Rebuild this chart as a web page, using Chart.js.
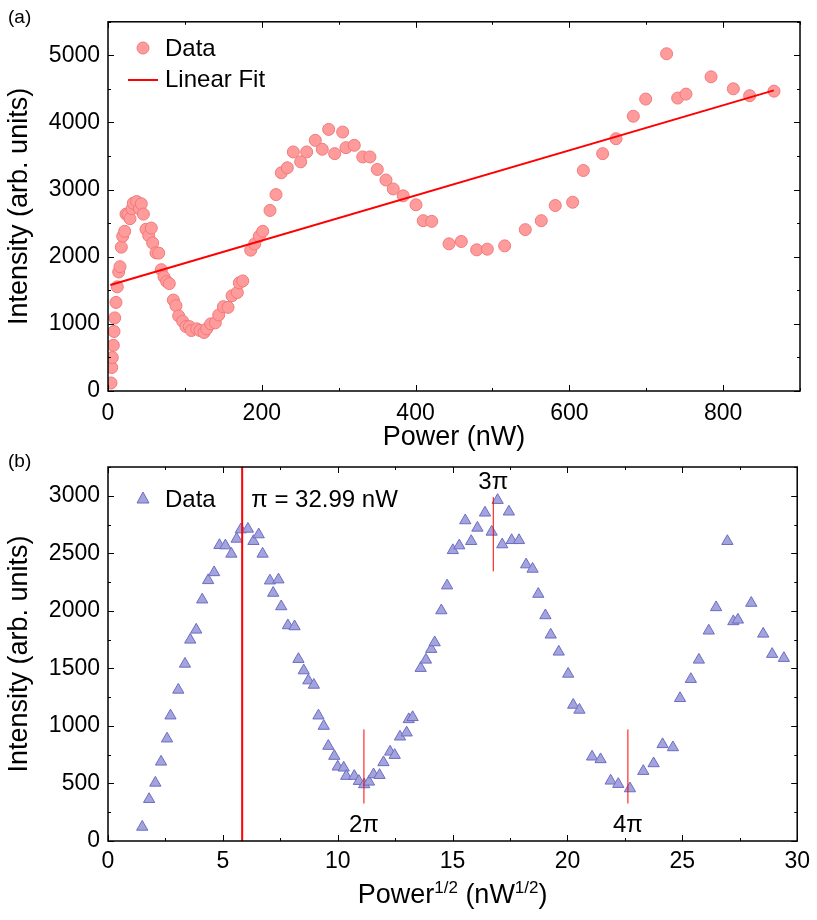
<!DOCTYPE html>
<html>
<head>
<meta charset="utf-8">
<script src="https://cdn.jsdelivr.net/npm/chart.js@4.4.0/dist/chart.umd.min.js"></script>
<style>
    html, body { margin: 0; padding: 0; background: #fff; }
    .wrap { position: relative; width: 817px; height: 920px; }
    canvas { display: block; position: absolute; left: 0; }
    #chartA { top: 0; }
    #chartB { top: 440px; }
</style>
</head>
<body>
<div class="wrap">
<canvas id="chartA" width="817" height="460"></canvas>
<canvas id="chartB" width="817" height="480"></canvas>
</div>
<script>
// panel (a): intensity vs power
const powerNw = [3.9, 4.8, 5.6, 6.9, 7.8, 8.7, 10.4, 12.1, 13.9, 15.6, 17.3, 19.1, 21.7, 23.4, 26.0, 28.6,
    31.2, 32.9, 37.3, 40.7, 43.3, 46.0, 49.4, 52.9, 56.3, 58.1, 62.4, 66.0, 69.3, 72.8, 76.3, 79.7,
    85.0, 88.4, 91.9, 97.1, 101.4, 105.8, 108.4, 115.4, 119.7, 124.9, 128.4, 133.6, 139.6, 144.0,
    150.0, 156.1, 161.3, 168.2, 170.8, 175.2, 185.6, 190.8, 196.8, 201.2, 210.7, 218.5, 225.4,
    233.2, 241.0, 250.6, 258.4, 269.6, 278.7, 287.0, 294.8, 305.2, 309.5, 320.3, 331.3, 340.7,
    350.2, 361.5, 371.0, 384.0, 400.6, 410.0, 421.0, 443.5, 459.5, 479.5, 493.3, 515.9, 542.7,
    563.5, 581.7, 604.3, 618.2, 643.3, 660.7, 683.2, 699.3, 726.5, 740.9, 751.7, 784.3, 813.3,
    834.5, 866.2];
const intensityA = [120, 350, 498, 680, 887, 1089, 1320, 1552, 1773, 1852, 2143, 2305, 2379, 2635, 2626, 2567,
    2715, 2797, 2822, 2715, 2789, 2635, 2409, 2315, 2428, 2206, 2059, 2054, 1807, 1700, 1630, 1600,
    1355, 1271, 1119, 1039, 960, 960, 901, 926, 901, 872, 926, 1000, 1015, 1133,
    1256, 1246, 1419, 1467, 1611, 1640, 2098, 2192, 2305, 2379, 2690, 2926, 3251,
    3325, 3561, 3414, 3561, 3734, 3601, 3897, 3536, 3857, 3625, 3660, 3487, 3487,
    3300, 3143, 3010, 2907, 2774, 2537, 2527, 2192, 2227, 2103, 2113, 2162, 2404,
    2537, 2763, 2812, 3285, 3536, 3758, 4093, 4349, 5024, 4364, 4423, 4680, 4502,
    4399, 4467];
const fitX = [3, 866];
const fitY = [1580, 4478];
const ticksAx = [0, 200, 400, 600, 800];
const ticksAy = [0, 1000, 2000, 3000, 4000, 5000];

// panel (b): intensity vs sqrt(power)
const sqrtPower = [1.49, 1.79, 2.06, 2.31, 2.57, 2.72, 3.06, 3.35, 3.58, 3.84, 4.10, 4.36, 4.62, 4.85, 5.11,
    5.37, 5.60, 5.78, 6.09, 6.33, 6.56, 6.73, 7.05, 7.19, 7.42, 7.54, 7.83, 8.12, 8.29, 8.52, 8.72,
    8.96, 9.16, 9.39, 9.59, 9.85, 10.00, 10.26, 10.37, 10.72, 10.92, 11.15, 11.36, 11.56, 11.82,
    11.99, 12.28, 12.48, 12.71, 13.00, 13.09, 13.26, 13.61, 13.84, 14.07, 14.22, 14.51, 14.76,
    15.01, 15.29, 15.55, 15.81, 16.08, 16.41, 16.70, 16.96, 17.16, 17.45, 17.57, 17.89, 18.20,
    18.48, 18.73, 19.04, 19.27, 19.62, 20.03, 20.25, 20.52, 21.07, 21.44, 21.88, 22.21, 22.72,
    23.30, 23.75, 24.14, 24.59, 24.90, 25.37, 25.72, 26.15, 26.47, 26.96, 27.22, 27.42, 28.00,
    28.52, 28.91, 29.42];
const intensityB = [122, 363, 505, 688, 889, 1089, 1313, 1539, 1748, 1835, 2097, 2265, 2334, 2570, 2567,
    2495, 2625, 2706, 2712, 2605, 2663, 2495, 2262, 2155, 2271, 2038, 1873, 1864, 1580, 1481, 1394,
    1356, 1089, 999, 825, 738, 645, 636, 564, 564, 520, 491, 514, 578, 572,
    683, 775, 746, 906, 941, 1057, 1075, 1502, 1574, 1667, 1725, 2003, 2219,
    2526, 2567, 2785, 2605, 2721, 2852, 2686, 2962, 2576, 2861, 2613, 2613, 2402,
    2364, 2146, 1960, 1792, 1644, 1452, 1182, 1139, 732, 709, 523, 494, 456,
    607, 674, 840, 813, 1240, 1406, 1574, 1827, 2030, 2605, 1908, 1922, 2068,
    1800, 1624, 1589];
const ticksBx = [0, 5, 10, 15, 20, 25, 30];
const ticksBy = [0, 500, 1000, 1500, 2000, 2500, 3000];

// phase markers: x position, lower and upper y, label
const piLineX = 5.84;
const phaseX = [11.14, 16.77, 22.63];
const phaseLow = [326, 2343, 326];
const phaseHigh = [970, 2988, 970];
const phaseLabels = ['2π', '3π', '4π'];
const phaseLabelY = [135, 3115, 135];

const FONT = '"Liberation Sans", Arial, sans-serif';
const RED = '#ff0000';
const PINK_FILL = '#ff9b9b';
const PINK_EDGE = '#f07a7a';
const BLUE_FILL = '#a4a4dc';
const BLUE_EDGE = '#6c6cc6';

Chart.defaults.font.family = FONT;
Chart.defaults.color = '#000';

function toPoints(xs, ys) {
    return xs.map(function (x, i) { return { x: x, y: ys[i] }; });
}

function fixedTicks(values) {
    return function (s) { s.ticks = values.map(function (v) { return { value: v }; }); };
}

// inward ticks on all four sides + frame
function frameTicks(xMajor, xMinor, yMajor, yMinor) {
    return {
        id: 'frameTicks',
        afterDraw: function (chart) {
            const ctx = chart.ctx;
            const a = chart.chartArea;
            const xs = chart.scales.x;
            const ys = chart.scales.y;
            ctx.save();
            ctx.strokeStyle = '#000';
            ctx.lineWidth = 1;
            for (let v = xs.min; v <= xs.max + 1e-9; v += xMinor) {
                const px = Math.round(xs.getPixelForValue(v)) + 0.5;
                const isMajor = Math.abs(v / xMajor - Math.round(v / xMajor)) < 1e-6;
                const len = isMajor ? 6 : 3;
                ctx.beginPath();
                ctx.moveTo(px, a.bottom); ctx.lineTo(px, a.bottom - len);
                ctx.moveTo(px, a.top); ctx.lineTo(px, a.top + len);
                ctx.stroke();
            }
            for (let v = ys.min; v <= ys.max + 1e-9; v += yMinor) {
                const py = Math.round(ys.getPixelForValue(v)) + 0.5;
                const isMajor = Math.abs(v / yMajor - Math.round(v / yMajor)) < 1e-6;
                const len = isMajor ? 6 : 3;
                ctx.beginPath();
                ctx.moveTo(a.left, py); ctx.lineTo(a.left + len, py);
                ctx.moveTo(a.right, py); ctx.lineTo(a.right - len, py);
                ctx.stroke();
            }
            ctx.lineWidth = 1.5;
            ctx.strokeRect(a.left, a.top, a.right - a.left, a.bottom - a.top);
            ctx.restore();
        }
    };
}

function panelLabel(text, y) {
    return {
        id: 'panelLabel',
        afterDraw: function (chart) {
            const ctx = chart.ctx;
            ctx.save();
            ctx.fillStyle = '#000';
            ctx.font = '19px ' + FONT;
            ctx.textAlign = 'left';
            ctx.textBaseline = 'middle';
            ctx.fillText(text, 8, y);
            ctx.restore();
        }
    };
}

function yAxis(max, values) {
    return {
        type: 'linear',
        min: 0,
        max: max,
        grid: { display: false, drawTicks: false },
        border: { display: false },
        afterBuildTicks: fixedTicks(values),
        ticks: { padding: 8, font: { size: 23 }, color: '#000', callback: function (v) { return String(v); } },
        title: { display: true, text: 'Intensity (arb. units)', font: { size: 27 }, color: '#000', padding: { top: 3, bottom: 0 } },
        afterFit: function (s) { s.width = 108; }
    };
}

// ---------- panel (a) ----------
const configA = {
    type: 'scatter',
    data: {
        datasets: [
            {
                label: 'Data',
                data: toPoints(powerNw, intensityA),
                pointStyle: 'circle',
                pointRadius: 6,
                pointBackgroundColor: PINK_FILL,
                pointBorderColor: PINK_EDGE,
                pointBorderWidth: 1,
                order: 2
            },
            {
                label: 'Linear Fit',
                type: 'line',
                data: toPoints(fitX, fitY),
                borderColor: RED,
                borderWidth: 2,
                pointRadius: 0,
                order: 1
            }
        ]
    },
    options: {
        responsive: false,
        animation: false,
        layout: { padding: { left: 0, right: 17, top: 19, bottom: 0 } },
        plugins: { legend: { display: false }, tooltip: { enabled: false } },
        scales: {
            x: {
                type: 'linear',
                min: 0,
                max: 900,
                grid: { display: false, drawTicks: false },
                border: { display: false },
                afterBuildTicks: fixedTicks(ticksAx),
                ticks: { padding: 9, font: { size: 23 }, color: '#000', callback: function (v) { return String(v); } },
                title: { display: true, text: 'Power (nW)', font: { size: 27 }, color: '#000', padding: { top: 0, bottom: 6 } },
                afterFit: function (s) { s.height = 69; }
            },
            y: yAxis(5500, ticksAy)
        }
    },
    plugins: [
        frameTicks(200, 100, 1000, 500),
        panelLabel('(a)', 18),
        {
            id: 'legendA',
            afterDraw: function (chart) {
                const ctx = chart.ctx;
                ctx.save();
                ctx.beginPath();
                ctx.arc(143, 48, 6, 0, Math.PI * 2);
                ctx.fillStyle = PINK_FILL;
                ctx.fill();
                ctx.strokeStyle = PINK_EDGE;
                ctx.lineWidth = 1;
                ctx.stroke();
                ctx.beginPath();
                ctx.moveTo(128, 80);
                ctx.lineTo(158, 80);
                ctx.strokeStyle = RED;
                ctx.lineWidth = 2;
                ctx.stroke();
                ctx.fillStyle = '#000';
                ctx.font = '24px ' + FONT;
                ctx.textBaseline = 'middle';
                ctx.fillText('Data', 165, 49);
                ctx.fillText('Linear Fit', 165, 80);
                ctx.restore();
            }
        }
    ]
};

// ---------- panel (b) ----------
const markerSets = phaseX.map(function (x, i) {
    return {
        type: 'line',
        data: [{ x: x, y: phaseLow[i] }, { x: x, y: phaseHigh[i] }],
        borderColor: RED,
        borderWidth: 1,
        pointRadius: 0,
        order: 1
    };
});

const configB = {
    type: 'scatter',
    data: {
        datasets: [
            {
                label: 'Data',
                data: toPoints(sqrtPower, intensityB),
                pointStyle: 'triangle',
                pointRadius: 6.5,
                pointBackgroundColor: BLUE_FILL,
                pointBorderColor: BLUE_EDGE,
                pointBorderWidth: 1,
                order: 2
            },
            {
                type: 'line',
                data: [{ x: piLineX, y: 0 }, { x: piLineX, y: 3250 }],
                borderColor: RED,
                borderWidth: 2,
                pointRadius: 0,
                order: 1
            }
        ].concat(markerSets)
    },
    options: {
        responsive: false,
        animation: false,
        layout: { padding: { left: 0, right: 17, top: 27, bottom: 0 } },
        plugins: { legend: { display: false }, tooltip: { enabled: false } },
        scales: {
            x: {
                type: 'linear',
                min: 0,
                max: 30,
                grid: { display: false, drawTicks: false },
                border: { display: false },
                afterBuildTicks: fixedTicks(ticksBx),
                ticks: { padding: 7, font: { size: 23 }, color: '#000', callback: function (v) { return String(v); } },
                afterFit: function (s) { s.height = 79; }
            },
            y: yAxis(3250, ticksBy)
        }
    },
    plugins: [
        frameTicks(5, 2.5, 500, 250),
        panelLabel('(b)', 22),
        {
            id: 'textB',
            afterDraw: function (chart) {
                const ctx = chart.ctx;
                const xs = chart.scales.x;
                const ys = chart.scales.y;
                const a = chart.chartArea;
                ctx.save();
                // legend
                ctx.beginPath();
                ctx.moveTo(143, 52);
                ctx.lineTo(149, 63);
                ctx.lineTo(137, 63);
                ctx.closePath();
                ctx.fillStyle = BLUE_FILL;
                ctx.fill();
                ctx.strokeStyle = BLUE_EDGE;
                ctx.lineWidth = 1;
                ctx.stroke();
                ctx.fillStyle = '#000';
                ctx.font = '24px ' + FONT;
                ctx.textBaseline = 'middle';
                ctx.textAlign = 'left';
                ctx.fillText('Data', 165, 60);
                ctx.fillText('π = 32.99 nW', xs.getPixelForValue(piLineX) + 9, 60);
                // phase labels
                ctx.textAlign = 'center';
                phaseLabels.forEach(function (t, i) {
                    ctx.fillText(t, xs.getPixelForValue(phaseX[i]), ys.getPixelForValue(phaseLabelY[i]));
                });
                // x title with superscripts
                const big = '27px ' + FONT;
                const small = '17px ' + FONT;
                const parts = [['Power', big, 0], ['1/2', small, -10], [' (nW', big, 0], ['1/2', small, -10], [')', big, 0]];
                let total = 0;
                parts.forEach(function (p) { ctx.font = p[1]; total += ctx.measureText(p[0]).width; });
                let cx = (a.left + a.right) / 2 - total / 2;
                const baseY = 463;
                ctx.textAlign = 'left';
                ctx.textBaseline = 'alphabetic';
                parts.forEach(function (p) {
                    ctx.font = p[1];
                    ctx.fillText(p[0], cx, baseY + p[2]);
                    cx += ctx.measureText(p[0]).width;
                });
                ctx.restore();
            }
        }
    ]
};

new Chart(document.getElementById('chartA').getContext('2d'), configA);
new Chart(document.getElementById('chartB').getContext('2d'), configB);
</script>
</body>
</html>
